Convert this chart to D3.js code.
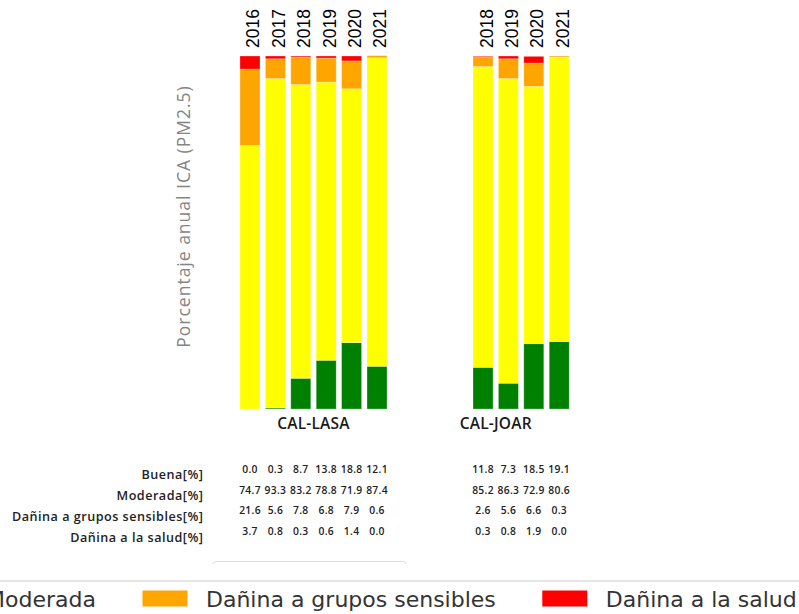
<!DOCTYPE html>
<html><head><meta charset="utf-8">
<script src="https://cdn.jsdelivr.net/npm/d3@7"></script>
<style>body{margin:0;background:#fff;overflow:hidden}svg{display:block}</style>
</head><body>
<svg id="c" width="799" height="614"></svg>
<script>
// ---- data ----
const stations = ["CAL-LASA", "CAL-JOAR"];
const years = ["2016", "2017", "2018", "2019", "2020", "2021"];
const categories = ["Buena", "Moderada", "Dañina a grupos sensibles", "Dañina a la salud"];
const colors = ["#008000", "#ffff00", "#ffa500", "#ff0000"];
const lasaYears = ["2016", "2017", "2018", "2019", "2020", "2021"];
const lasaBuena = [0.0, 0.3, 8.7, 13.8, 18.8, 12.1];
const lasaModerada = [74.7, 93.3, 83.2, 78.8, 71.9, 87.4];
const lasaSensibles = [21.6, 5.6, 7.8, 6.8, 7.9, 0.6];
const lasaSalud = [3.7, 0.8, 0.3, 0.6, 1.4, 0.0];
const joarYears = ["2018", "2019", "2020", "2021"];
const joarBuena = [11.8, 7.3, 18.5, 19.1];
const joarModerada = [85.2, 86.3, 72.9, 80.6];
const joarSensibles = [2.6, 5.6, 6.6, 0.3];
const joarSalud = [0.3, 0.8, 1.9, 0.0];
const yTitle = "Porcentaje anual ICA (PM2.5)";
const rowLabels = ["Buena[%]", "Moderada[%]", "Dañina a grupos sensibles[%]", "Dañina a la salud[%]"];

const rows = [];
function addStation(st, yrs, arrs) {
  yrs.forEach((y, i) => rows.push({station: st, year: y, values: arrs.map(a => a[i])}));
}
addStation("CAL-LASA", lasaYears, [lasaBuena, lasaModerada, lasaSensibles, lasaSalud]);
addStation("CAL-JOAR", joarYears, [joarBuena, joarModerada, joarSensibles, joarSalud]);

const svg = d3.select("#c");

const x0 = d3.scaleBand().domain(stations).range([237.3, 571.9]).paddingInner(0.1636).paddingOuter(0);
const x1 = d3.scaleBand().domain(years).range([0, x0.bandwidth()]).paddingInner(0.2126).paddingOuter(0.1063);
const y = d3.scaleLinear().domain([0, 100]).range([409, 56]);

const labelFont = "Open Sans, sans-serif";

// bars
const g = svg.append("g");
rows.forEach(r => {
  let acc = 0;
  const bx = x0(r.station) + x1(r.year);
  r.values.forEach((v, k) => {
    g.append("rect")
      .attr("x", bx).attr("width", x1.bandwidth())
      .attr("y", y(acc + v)).attr("height", y(acc) - y(acc + v))
      .attr("fill", colors[k])
      .attr("stroke", "#fff").attr("stroke-opacity", 0.35).attr("stroke-width", 0.8);
    acc += v;
  });
  // year label
  const cx = bx + x1.bandwidth() / 2;
  svg.append("text")
    .attr("transform", `translate(${cx + 9.5},48) rotate(-90)`)
    .attr("text-anchor", "start")
    .attr("font-family", "Liberation Sans, Arial, sans-serif")
    .attr("font-size", 17.5).attr("fill", "#000")
    .text(r.year);
  // table values
  r.values.forEach((v, k) => {
    svg.append("text")
      .attr("x", cx).attr("y", 473.3 + k * 20.5)
      .attr("text-anchor", "middle")
      .attr("font-family", labelFont).attr("font-weight", 600)
      .attr("font-size", 10.3).attr("letter-spacing", 0.3).attr("fill", "#222")
      .text(v.toFixed(1));
  });
});

// station labels
stations.forEach(s => {
  svg.append("text")
    .attr("x", x0(s) + x0.bandwidth() / 2).attr("y", 429)
    .attr("text-anchor", "middle")
    .attr("font-family", labelFont).attr("font-weight", 600)
    .attr("font-size", 15.5).attr("letter-spacing", 0.2).attr("fill", "#1a1a1a")
    .text(s);
});

// y title
svg.append("text")
  .attr("transform", "translate(190,216.5) rotate(-90)")
  .attr("text-anchor", "middle")
  .attr("font-family", labelFont)
  .attr("font-size", 17.5).attr("letter-spacing", 1).attr("fill", "#858585")
  .text(yTitle);

// row labels
rowLabels.forEach((t, k) => {
  svg.append("text")
    .attr("x", 203.5).attr("y", 478.5 + k * 21.3)
    .attr("text-anchor", "end")
    .attr("font-family", labelFont).attr("font-weight", 600)
    .attr("font-size", 12.6).attr("letter-spacing", 0.5).attr("fill", "#222")
    .text(t);
});

// faint rounded line
svg.append("path")
  .attr("d", "M213,564 Q213,561.5 216,561.5 L403,561.5 Q406,561.5 406,564")
  .attr("fill", "none").attr("stroke", "#ddd").attr("stroke-width", 1);

// legend separator
svg.append("line").attr("x1", 0).attr("x2", 799).attr("y1", 581).attr("y2", 581)
  .attr("stroke", "#ddd").attr("stroke-width", 1.5);

// legend
const lg = svg.append("g");
const items = categories.map((c, i) => {
  const t = lg.append("text").attr("y", 606.5)
    .attr("font-family", "DejaVu Sans, sans-serif").attr("font-size", 22).attr("fill", "#333").text(c);
  return {c, i, t, w: t.node().getComputedTextLength()};
});
const swW = 45, txtOff = 63.5, gap = 46.5;
const pos = [];
pos[2] = 142.5;
for (let i = 1; i >= 0; i--) pos[i] = pos[i + 1] - gap - items[i].w - txtOff;
for (let i = 3; i < items.length; i++) pos[i] = pos[i - 1] + txtOff + items[i - 1].w + gap;
items.forEach(it => {
  lg.append("rect").attr("x", pos[it.i]).attr("y", 590.5).attr("width", swW).attr("height", 16).attr("fill", colors[it.i]);
  it.t.attr("x", pos[it.i] + txtOff);
});
</script>
</body></html>
